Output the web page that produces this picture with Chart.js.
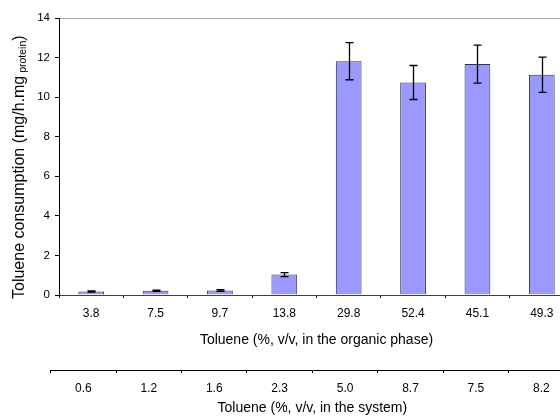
<!DOCTYPE html>
<html>
<head>
<meta charset="utf-8">
<script src="https://cdn.jsdelivr.net/npm/chart.js@4/dist/chart.umd.min.js"></script>
<style>
  html, body { margin: 0; padding: 0; background: #fff; overflow: hidden; width: 560px; height: 420px; }
  canvas { display: block; }
</style>
</head>
<body>
<canvas id="c" width="590" height="420"></canvas>
<script>
// ---- data ----
const organicLabels = ['3.8', '7.5', '9.7', '13.8', '29.8', '52.4', '45.1', '49.3'];
const systemLabels  = ['0.6', '1.2', '1.6', '2.3', '5.0', '8.7', '7.5', '8.2'];
const consumption   = [0.18, 0.22, 0.23, 1.03, 11.82, 10.74, 11.67, 11.13];
const consumptionErr = [0.03, 0.03, 0.04, 0.10, 0.94, 0.86, 0.96, 0.89];
const yTicks = [0, 2, 4, 6, 8, 10, 12, 14];

const FONT = '"Liberation Sans", Arial, Helvetica, sans-serif';

// error bars drawn from data through the y scale
const errorBars = {
  id: 'errorBars',
  afterDatasetsDraw(chart) {
    const meta = chart.getDatasetMeta(0);
    const ys = chart.scales.y;
    const ctx = chart.ctx;
    ctx.save();
    ctx.strokeStyle = '#000';
    ctx.lineWidth = 1.3;
    meta.data.forEach((el, i) => {
      const v = consumption[i], e = consumptionErr[i];
      const x = Math.round(el.x) + 0.5;
      const yt = ys.getPixelForValue(v + e);
      const yb = ys.getPixelForValue(v - e);
      const cap = 4;
      ctx.beginPath();
      ctx.moveTo(x, yt); ctx.lineTo(x, yb);
      ctx.moveTo(x - cap, yt); ctx.lineTo(x + cap, yt);
      ctx.moveTo(x - cap, yb); ctx.lineTo(x + cap, yb);
      ctx.stroke();
    });
    ctx.restore();
  }
};

// secondary category axis sits slightly left of the primary one
const shiftSecondary = {
  id: 'shiftSecondary',
  afterLayout(chart) {
    const s = chart.scales.x2, p = chart.scales.x;
    s.left = p.left - 8.3;
    s.right = p.right;
    s.width = s.right - s.left;
    s.configure();
  }
};

// y-axis title with subscript
const yTitle = {
  id: 'yTitle',
  afterDraw(chart) {
    const ctx = chart.ctx;
    ctx.save();
    ctx.translate(24, 299);
    ctx.rotate(-Math.PI / 2);
    ctx.fillStyle = '#000';
    ctx.textBaseline = 'alphabetic';
    ctx.textAlign = 'left';
    ctx.font = '16px ' + FONT;
    const main = 'Toluene consumption (mg/h.mg';
    ctx.fillText(main, 0, 0);
    let x = ctx.measureText(main).width;
    ctx.font = '10.5px ' + FONT;
    const sub = ' protein';
    ctx.fillText(sub, x, 1.5);
    x += ctx.measureText(sub).width;
    ctx.font = '16px ' + FONT;
    ctx.fillText(')', x, 0);
    ctx.restore();
  }
};

new Chart(document.getElementById('c'), {
  type: 'bar',
  data: {
    labels: organicLabels,
    datasets: [{
      data: consumption,
      backgroundColor: '#9999ff',
      borderColor: '#333344',
      borderWidth: 1,
      barPercentage: 0.4,
      categoryPercentage: 1.0,
      xAxisID: 'x',
      yAxisID: 'y'
    }]
  },
  options: {
    responsive: false,
    animation: false,
    devicePixelRatio: 1,
    layout: { padding: { left: 0, right: 16, top: 18, bottom: 0 } },
    plugins: { legend: { display: false }, tooltip: { enabled: false } },
    scales: {
      x: {
        type: 'category',
        position: 'bottom',
        offset: true,
        grid: { offset: true, drawOnChartArea: false, drawTicks: true, tickLength: 3, color: '#000' },
        border: { color: '#404040', width: 1 },
        ticks: { font: { family: FONT, size: 12 }, color: '#000', padding: 8, maxRotation: 0, autoSkip: false },
        title: { display: true, text: 'Toluene (%, v/v, in the organic phase)', font: { family: FONT, size: 14 }, color: '#000', padding: { top: 0, bottom: 21 } },
        afterFit: s => { s.height = 75; }
      },
      x2: {
        type: 'category',
        position: 'bottom',
        labels: systemLabels,
        offset: true,
        grid: { offset: true, drawOnChartArea: false, drawTicks: true, tickLength: 3, color: '#000' },
        border: { color: '#000', width: 1 },
        ticks: { font: { family: FONT, size: 12 }, color: '#000', padding: 8, maxRotation: 0, autoSkip: false },
        title: { display: true, text: 'Toluene (%, v/v, in the system)', font: { family: FONT, size: 14 }, color: '#000', padding: { top: 0, bottom: 3 } },
        afterFit: s => { s.height = 50; }
      },
      y: {
        min: 0, max: 14,
        afterBuildTicks: s => { s.ticks = yTicks.map(v => ({ value: v })); },
        grid: {
          color: c => (c.tick && c.tick.value === 14) ? '#a8a8a8' : 'rgba(0,0,0,0)',
          tickColor: '#000',
          tickLength: 4,
          lineWidth: 1
        },
        border: { color: '#000', width: 1 },
        ticks: { font: { family: FONT, size: 11.5 }, color: '#000', padding: 5 },
        afterFit: s => { s.width = 59; }
      }
    }
  },
  plugins: [shiftSecondary, errorBars, yTitle]
});
</script>
</body>
</html>
